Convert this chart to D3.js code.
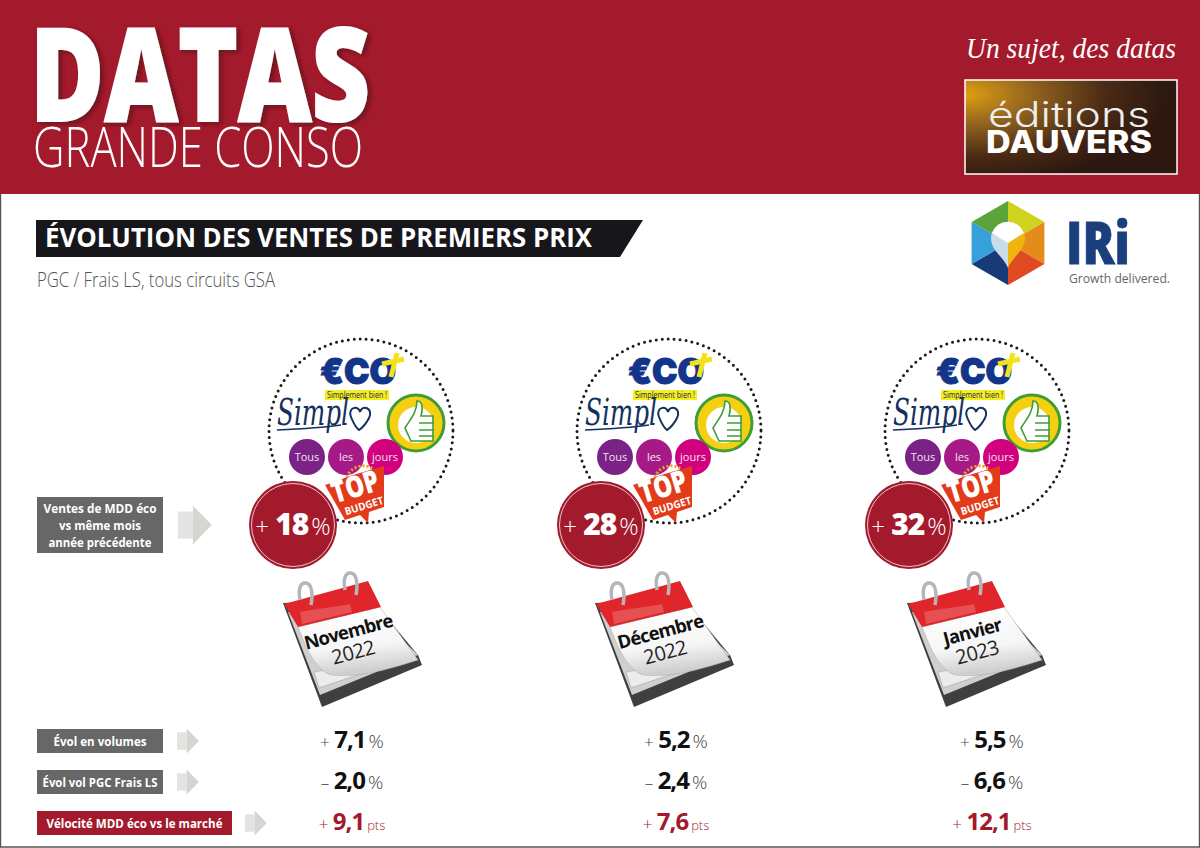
<!DOCTYPE html>
<html lang="fr">
<head>
<meta charset="utf-8">
<title>Évolution des ventes de premiers prix</title>
<script src="https://cdn.jsdelivr.net/npm/d3@7"></script>
<style>
  html, body { margin: 0; padding: 0; background: #fff; }
  svg { display: block; }
  text { font-family: "Open Sans", "Noto Sans", sans-serif; }
</style>
</head>
<body>
<div id="chart"></div>
<script>
// data
var months = ["Novembre", "Décembre", "Janvier"];
var years = ["2022", "2022", "2023"];
var salesGrowth = [18, 28, 32];
var volumeGrowth = [7.1, 5.2, 5.5];
var marketGrowth = [-2.0, -2.4, -6.6];
var velocity = [9.1, 7.6, 12.1];
var rowLabels = ["Évol en volumes", "Évol vol PGC Frais LS", "Vélocité MDD éco vs le marché"];
var rowUnits = ["%", "%", "pts"];
var salesLabel = ["Ventes de MDD éco", "vs même mois", "année précédente"];
var brands = ["Tous", "les", "jours"];

var RED = "#a31a2c", GREY = "#676767", NAVY = "#1b3f7c";
var width = 1200, height = 848;

var svg = d3.select("#chart").append("svg")
    .attr("width", width)
    .attr("height", height)
    .attr("viewBox", [0, 0, width, height]);

var defs = svg.append("defs");
var shadow = defs.append("filter").attr("id", "soft")
    .attr("x", "-10%").attr("y", "-10%").attr("width", "125%").attr("height", "125%");
shadow.append("feDropShadow").attr("dx", 3).attr("dy", 2).attr("stdDeviation", 2)
    .attr("flood-color", "#3a0a10").attr("flood-opacity", 0.6);
var brown = defs.append("radialGradient").attr("id", "brown")
    .attr("cx", "0%").attr("cy", "15%").attr("r", "95%");
brown.append("stop").attr("offset", "0%").attr("stop-color", "#e0a010");
brown.append("stop").attr("offset", "30%").attr("stop-color", "#9a6a20");
brown.append("stop").attr("offset", "70%").attr("stop-color", "#4a2a14");
brown.append("stop").attr("offset", "100%").attr("stop-color", "#2c1810");
var curl = defs.append("linearGradient").attr("id", "page")
    .attr("x1", "0").attr("y1", "0").attr("x2", "0.2").attr("y2", "1");
curl.append("stop").attr("offset", "0%").attr("stop-color", "#ffffff");
curl.append("stop").attr("offset", "65%").attr("stop-color", "#f6f6f6");
curl.append("stop").attr("offset", "100%").attr("stop-color", "#cfcfcf");

// page frame
svg.append("rect").attr("width", width).attr("height", height).attr("fill", "#fff");
svg.append("path").attr("d", "M0.5,194V847H1199.5V194").attr("fill", "none")
    .attr("stroke", "#555").attr("stroke-width", 1.4);

// header
svg.append("rect").attr("width", width).attr("height", 194).attr("fill", RED);
svg.append("text").attr("x", 30).attr("y", 121)
    .attr("textLength", 340).attr("lengthAdjust", "spacingAndGlyphs")
    .attr("font-size", 130).attr("font-weight", 800).attr("fill", "#fff")
    .attr("stroke", "#fff").attr("stroke-width", 2)
    .attr("filter", "url(#soft)").text("DATAS");
svg.append("text").attr("x", 33).attr("y", 167)
    .attr("textLength", 330).attr("lengthAdjust", "spacingAndGlyphs")
    .attr("font-size", 56).attr("font-weight", 300).attr("fill", "#fff")
    .text("GRANDE CONSO");
svg.append("text").attr("x", 966).attr("y", 58)
    .attr("textLength", 210).attr("lengthAdjust", "spacingAndGlyphs")
    .style("font-family", "'Liberation Serif', serif").attr("font-style", "italic")
    .attr("font-size", 29).attr("fill", "#fff").text("Un sujet, des datas");

svg.append("rect").attr("x", 965).attr("y", 80).attr("width", 212).attr("height", 94)
    .attr("fill", "url(#brown)").attr("stroke", "#fff").attr("stroke-width", 1.5);
svg.append("text").attr("x", 988).attr("y", 127)
    .attr("textLength", 162).attr("lengthAdjust", "spacingAndGlyphs")
    .style("font-family", "Inter, sans-serif").attr("font-weight", 300)
    .attr("font-size", 35).attr("fill", "#eee").text("éditions");
svg.append("text").attr("x", 986).attr("y", 153)
    .attr("textLength", 166).attr("lengthAdjust", "spacingAndGlyphs")
    .style("font-family", "Inter, sans-serif").attr("font-weight", 800)
    .attr("font-size", 31).attr("fill", "#fff").text("DAUVERS");

// title
svg.append("path").attr("d", "M36,220H643L620,257H36Z").attr("fill", "#17171b");
svg.append("text").attr("x", 45).attr("y", 247)
    .attr("textLength", 547).attr("lengthAdjust", "spacingAndGlyphs")
    .attr("font-size", 27).attr("font-weight", 700).attr("fill", "#fff")
    .text("ÉVOLUTION DES VENTES DE PREMIERS PRIX");
svg.append("text").attr("x", 37).attr("y", 287)
    .attr("textLength", 238).attr("lengthAdjust", "spacingAndGlyphs")
    .attr("font-size", 20).attr("font-weight", 300).attr("fill", "#555")
    .text("PGC / Frais LS, tous circuits GSA");

// IRI logo
var iri = svg.append("g").attr("transform", "translate(1008,243)");
var hexColors = ["#cfd21f", "#e58b1a", "#df4a22", "#183a76", "#36a0da", "#5ba33b"];
var hexPoints = d3.range(7).map(function (i) {
    var a = -Math.PI / 2 + i * Math.PI / 3;
    return [42 * Math.cos(a), 42 * Math.sin(a)];
});
iri.selectAll("path.seg")
    .data(hexColors)
    .enter().append("path")
    .attr("class", "seg")
    .attr("fill", function (d) { return d; })
    .attr("d", function (d, i) {
        return "M0,0L" + hexPoints[i] + "L" + hexPoints[i + 1] + "Z";
    });
iri.append("path").attr("d", "M0,25C-4,14 -17,8 -17,-5A17,17 0 0 1 0,-21V25Z").attr("fill", "#c9dde8");
iri.append("path").attr("d", "M0,25C4,14 17,8 17,-5A17,17 0 0 0 0,-21V25Z").attr("fill", "#f0b40f");
iri.append("path").attr("d", "M-16,-10A17,17 0 0 1 16,-10L0,0Z").attr("fill", "#fff");
svg.append("text").attr("x", 1066).attr("y", 264)
    .attr("textLength", 64).attr("lengthAdjust", "spacingAndGlyphs")
    .attr("font-size", 58).attr("font-weight", 800).attr("fill", NAVY)
    .attr("stroke", NAVY).attr("stroke-width", 0.8).text("IRi");
svg.append("text").attr("x", 1069).attr("y", 283)
    .attr("textLength", 101).attr("lengthAdjust", "spacingAndGlyphs")
    .attr("font-size", 12.5).attr("fill", "#666").text("Growth delivered.");

// column scales
var logoX = d3.scalePoint().domain(months).range([361, 977]);
var calendarX = d3.scalePoint().domain(months).range([352, 976]);
var valueX = d3.scaleOrdinal().domain(months).range([352, 676, 992]);

// logo circles
var logos = svg.selectAll("g.logos")
    .data(months)
    .enter().append("g")
    .attr("class", "logos")
    .attr("transform", function (d) { return "translate(" + logoX(d) + ",431)"; });

logos.append("circle").attr("r", 92).attr("fill", "none")
    .attr("stroke", "#1a1a1a").attr("stroke-width", 3)
    .attr("stroke-linecap", "round").attr("stroke-dasharray", "0 6");

logos.append("text").attr("x", -41).attr("y", -47)
    .attr("textLength", 76).attr("lengthAdjust", "spacingAndGlyphs")
    .style("font-family", "Inter, sans-serif")
    .attr("font-size", 36).attr("font-weight", 900).attr("fill", "#12348a")
    .attr("stroke", "#12348a").attr("stroke-width", 1).text("€CO");
logos.append("path").attr("d", "M36,-78L30,-54M21,-67L43,-72").attr("stroke", "#f2e21c")
    .attr("stroke-width", 5).attr("fill", "none");
logos.append("rect").attr("x", -36).attr("y", -41).attr("width", 64).attr("height", 10).attr("fill", "#f4ee1e");
logos.append("text").attr("x", -34).attr("y", -33)
    .attr("textLength", 60).attr("lengthAdjust", "spacingAndGlyphs")
    .attr("font-size", 8.5).attr("fill", "#1a2a50").text("Simplement bien !");
logos.append("text").attr("x", -84).attr("y", -6)
    .style("font-family", "'DejaVu Serif', serif").attr("font-style", "italic")
    .attr("textLength", 72).attr("lengthAdjust", "spacingAndGlyphs")
    .attr("font-size", 38).attr("fill", "#15305f").text("Simpl");
logos.append("path").attr("d", "M-84,-1C-60,-2 -40,-3 -20,-6").attr("fill", "none").attr("stroke", "#15305f").attr("stroke-width", 1.6);
logos.append("path").attr("d", "M-10,-14C-14,-24 -2,-26 -1,-19C1,-27 13,-23 8,-13C5,-7 1,-3 -2,-1C-6,-4 -8,-9 -10,-14Z")
    .attr("fill", "none").attr("stroke", "#15305f").attr("stroke-width", 2);

logos.append("circle").attr("cx", 55).attr("cy", -8).attr("r", 28).attr("fill", "#f5cf12")
    .attr("stroke", "#3e9e35").attr("stroke-width", 3);
logos.append("circle").attr("cx", 55).attr("cy", -6).attr("r", 18).attr("fill", "#fff");
logos.append("path").attr("d", "M44,-3C48,-10 56,-18 56,-30C62,-30 62,-22 60,-15H72V10H50Z")
    .attr("fill", "#fff").attr("stroke", "#3e9e35").attr("stroke-width", 1.6);
logos.append("path").attr("d", "M58,-8H73M58,-1H73M58,5H73").attr("stroke", "#3e9e35").attr("stroke-width", 1.4);

var brandColors = ["#7b2287", "#a61a88", "#d1007f"];
logos.selectAll("circle.brand")
    .data(brands)
    .enter().append("circle")
    .attr("class", "brand")
    .attr("cx", function (d, i) { return -54 + i * 39; })
    .attr("cy", 26).attr("r", 18)
    .attr("fill", function (d, i) { return brandColors[i]; });
logos.selectAll("text.brand")
    .data(brands)
    .enter().append("text")
    .attr("class", "brand")
    .attr("x", function (d, i) { return -54 + i * 39; })
    .attr("y", 30).attr("text-anchor", "middle")
    .attr("font-size", 11).attr("fill", "#f2e4f0")
    .text(function (d) { return d; });

// top budget tag
logos.append("path").attr("d", "M-36,54L-8,44L23,35L23,76L8,81L7,92L-1,84L-16,89Z").attr("fill", "#e33a1a");
logos.append("path").attr("d", "M-14,46A16,14 -16 0 1 12,38").attr("fill", "none")
    .attr("stroke", "#f0a020").attr("stroke-width", 3).attr("stroke-dasharray", "2 2");
logos.append("text")
    .attr("transform", "translate(-6,55) rotate(-17)")
    .attr("y", 11).attr("text-anchor", "middle")
    .attr("font-size", 30).attr("font-weight", 800).attr("fill", "#fff")
    .attr("textLength", 48).attr("lengthAdjust", "spacingAndGlyphs").text("TOP");
logos.append("text")
    .attr("transform", "translate(3,75) rotate(-17)")
    .attr("y", 3.5).attr("text-anchor", "middle")
    .attr("font-size", 10.5).attr("font-weight", 700).attr("fill", "#fff")
    .attr("textLength", 40).attr("lengthAdjust", "spacingAndGlyphs").text("BUDGET");

// sales badge
var badges = logos.append("g").attr("transform", "translate(-68,94)");
badges.append("circle").attr("r", 44).attr("fill", RED);
badges.append("circle").attr("r", 41.5).attr("fill", "none").attr("stroke", "#e8c4c9").attr("stroke-width", 1);
badges.each(function (d, i) {
    var t = d3.select(this).append("text")
        .attr("text-anchor", "middle").attr("y", 10).attr("fill", "#fff");
    t.append("tspan").attr("font-size", 24).attr("font-weight", 300).text("+ ");
    t.append("tspan").attr("font-size", 30).attr("font-weight", 800).attr("letter-spacing", -1).text(salesGrowth[i]);
    t.append("tspan").attr("font-size", 24).attr("font-weight", 300).attr("dx", 3).text("%");
});

// calendars
var calendars = svg.selectAll("g.calendar")
    .data(months)
    .enter().append("g")
    .attr("class", "calendar")
    .attr("transform", function (d) { return "translate(" + calendarX(d) + ",0)"; });

calendars.append("path").attr("d", "M-69,603L-30,707L70,665L66,655L20,600Z").attr("fill", "#3f3f3f");
calendars.append("path").attr("d", "M-64,612L-32,695L66,655L30,620Z").attr("fill", "#cfcfcf");
calendars.append("path").attr("d", "M-38,672L-33,688L64,655L30,660Z").attr("fill", "#ececec")
    .attr("stroke", "#999").attr("stroke-width", 0.5);
calendars.append("path").attr("d", "M-54,627L28,607L66,660C40,668 10,678 -20,675C-35,672 -45,650 -54,627Z")
    .attr("fill", "url(#page)").attr("stroke", "#aaa").attr("stroke-width", 0.5);
calendars.append("path").attr("d", "M-68,604L16,581L29,607L-54,627Z").attr("fill", "#e0262b");
calendars.append("path").attr("d", "M-52,612C-30,608 -10,606 -2,604L0,612L-50,624Z").attr("fill", "#ea7373").attr("opacity", 0.55);
calendars.selectAll("path.ring")
    .data([[-45, 0], [0, -10]])
    .enter().append("path")
    .attr("class", "ring")
    .attr("transform", function (d) { return "translate(" + d[0] + "," + d[1] + ")"; })
    .attr("d", "M4,605C6,594 5,584 -1,583C-7,582 -9,590 -7,600")
    .attr("fill", "none").attr("stroke", "#b4b6b9").attr("stroke-width", 3.5);

calendars.append("text")
    .attr("transform", "translate(-2,638) rotate(-15)")
    .attr("text-anchor", "middle")
    .attr("font-size", 18.5).attr("font-weight", 700).attr("letter-spacing", -0.8)
    .attr("fill", "#111").text(function (d) { return d; });
calendars.append("text")
    .data(years)
    .attr("transform", "translate(3,659) rotate(-15)")
    .attr("text-anchor", "middle")
    .attr("font-size", 20).attr("font-weight", 400).attr("letter-spacing", -0.5).attr("fill", "#222")
    .text(function (d) { return d; });

// row labels
function arrow(g, x, cy, s) {
    g.append("path")
        .attr("d", "M" + x + "," + (cy - 0.5 * s) + "H" + (x + 0.55 * s) + "V" + (cy + 0.5 * s) + "H" + x + "Z")
        .attr("fill", "#e4e3e1");
    g.append("path")
        .attr("d", "M" + (x + 0.55 * s) + "," + (cy - 0.72 * s) +
            "L" + (x + 1.25 * s) + "," + cy + "L" + (x + 0.55 * s) + "," + (cy + 0.72 * s) + "Z")
        .attr("fill", "#d6d5d2");
}

var salesLabelWidths = [113, 82, 103];
svg.append("rect").attr("x", 37).attr("y", 497).attr("width", 126).attr("height", 56).attr("fill", GREY);
svg.selectAll("text.sales")
    .data(salesLabel)
    .enter().append("text")
    .attr("class", "sales")
    .attr("x", 100)
    .attr("y", function (d, i) { return 513 + i * 17; })
    .attr("text-anchor", "middle")
    .attr("textLength", function (d, i) { return salesLabelWidths[i]; })
    .attr("lengthAdjust", "spacingAndGlyphs")
    .attr("font-size", 13).attr("font-weight", 700).attr("fill", "#fff")
    .text(function (d) { return d; });
arrow(svg, 178, 525, 27);

var rowY = d3.scalePoint().domain(rowLabels).range([741, 823]);
var rowValues = [volumeGrowth, marketGrowth, velocity];
var rowLabelWidths = [93, 115, 176];
var number = d3.format(".1f");

var rows = svg.selectAll("g.row")
    .data(rowLabels)
    .enter().append("g")
    .attr("class", "row")
    .attr("transform", function (d) { return "translate(0," + rowY(d) + ")"; });

rows.append("rect")
    .attr("x", 37).attr("y", -12).attr("height", 24)
    .attr("width", function (d, i) { return i === 2 ? 195 : 126; })
    .attr("fill", function (d, i) { return i === 2 ? RED : GREY; });
rows.append("text")
    .attr("x", function (d, i) { return i === 2 ? 134.5 : 100; })
    .attr("y", 4.5).attr("text-anchor", "middle")
    .attr("textLength", function (d, i) { return rowLabelWidths[i]; })
    .attr("lengthAdjust", "spacingAndGlyphs")
    .attr("font-size", 13).attr("font-weight", 700).attr("fill", "#fff")
    .text(function (d) { return d; });
rows.each(function (d, i) {
    arrow(d3.select(this), i === 2 ? 245 : 177, 0, 17.5);
});

rows.each(function (d, r) {
    var color = r === 2 ? RED : "#111";
    d3.select(this).selectAll("text.value")
        .data(rowValues[r])
        .enter().append("text")
        .attr("class", "value")
        .attr("x", function (v, i) { return valueX(months[i]); })
        .attr("y", 7)
        .attr("text-anchor", "middle")
        .each(function (v) {
            var t = d3.select(this);
            t.append("tspan").attr("font-size", 17).attr("font-weight", 300).attr("fill", r === 2 ? RED : "#444")
                .text(v < 0 ? "– " : "+ ");
            t.append("tspan").attr("font-size", 24).attr("font-weight", 700).attr("fill", color)
                .attr("letter-spacing", -1).text(number(Math.abs(v)).replace(".", ","));
            t.append("tspan").attr("font-size", rowUnits[r] === "pts" ? 13 : 19).attr("font-weight", 300)
                .attr("dx", 3).attr("fill", r === 2 ? RED : "#444").text(rowUnits[r]);
        });
});
</script>
</body>
</html>
